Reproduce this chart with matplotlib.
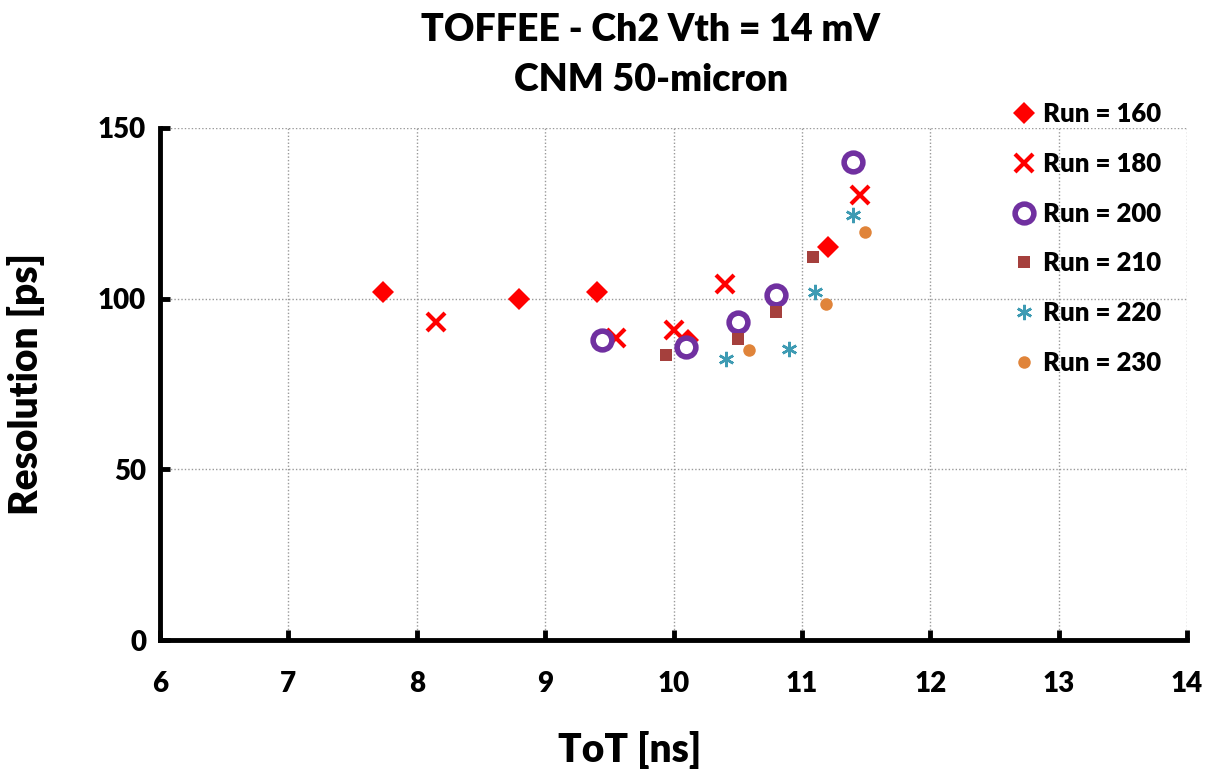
import matplotlib
matplotlib.use("Agg")
import matplotlib.pyplot as plt

plt.rcParams['font.family'] = ['Lato', 'DejaVu Sans']
W = 'heavy'
plt.rcParams['font.weight'] = W

# Data
tot_160 = [7.74, 8.80, 9.40, 10.11, 11.20]
res_160 = [102.0, 100.0, 102.0, 88.0, 115.0]

tot_180 = [8.15, 9.55, 10.00, 10.40, 11.45]
res_180 = [93.3, 88.5, 90.8, 104.3, 130.5]

tot_200 = [9.44, 10.10, 10.50, 10.80, 11.40]
res_200 = [88.0, 85.8, 93.2, 101.2, 140.0]

tot_210 = [9.94, 10.50, 10.80, 11.09]
res_210 = [83.6, 88.3, 96.2, 112.3]

tot_220 = [10.41, 10.90, 11.10, 11.40]
res_220 = [82.4, 85.2, 102.0, 124.5]

tot_230 = [10.59, 11.19, 11.49]
res_230 = [85.0, 98.5, 119.6]

labels = ["Run = 160", "Run = 180", "Run = 200", "Run = 210", "Run = 220", "Run = 230"]
x_ticks = [6, 7, 8, 9, 10, 11, 12, 13, 14]
y_ticks = [0, 50, 100, 150]

fig = plt.figure(figsize=(12.05, 7.7), dpi=100)
ax = fig.add_axes([0.1328, 0.1688, 0.8523, 0.665])

ax.plot(tot_160, res_160, linestyle='none', marker='D', markersize=11,
        color='#FF0000', markeredgewidth=0, label=labels[0])
ax.plot(tot_180, res_180, linestyle='none', marker='x', markersize=13,
        color='#FF0000', markeredgewidth=3, label=labels[1])
ax.plot(tot_200, res_200, linestyle='none', marker='o', markersize=13.5,
        markerfacecolor='white', markeredgecolor='#7030A0', markeredgewidth=4, label=labels[2])
ax.plot(tot_210, res_210, linestyle='none', marker='s', markersize=9,
        color='#A5403D', markeredgewidth=0, label=labels[3])
ax.plot(tot_220, res_220, linestyle='none', marker=(6, 2, 0), markersize=11,
        color='#3E9BB3', markeredgewidth=1.8, label=labels[4])
ax.plot(tot_230, res_230, linestyle='none', marker='o', markersize=9,
        color='#E0843A', markeredgewidth=0, label=labels[5])

ax.set_xlim(6, 14)
ax.set_ylim(0, 150)
ax.set_xticks(x_ticks)
ax.set_yticks(y_ticks)
ax.grid(True, color='#999999', linestyle=(0, (1, 1.5)), linewidth=1.0)
ax.set_axisbelow(True)

for s in ['top', 'right']:
    ax.spines[s].set_visible(False)
for s in ['left', 'bottom']:
    ax.spines[s].set_linewidth(3.5)
    ax.spines[s].set_color('black')

ax.tick_params(axis='both', direction='in', length=7, width=3.5, labelsize=20)
ax.tick_params(axis='x', pad=22)
ax.tick_params(axis='y', pad=10)
for lab in ax.get_xticklabels() + ax.get_yticklabels():
    lab.set_fontweight(W)

ax.set_xlabel("ToT [ns]", fontsize=28, fontweight=W, labelpad=22)
ax.xaxis.set_label_coords(0.457, -0.178)
ax.set_ylabel("Resolution [ps]", fontsize=28, fontweight=W)
ax.yaxis.set_label_coords(-0.112, 0.5)

fig.text(0.54, 0.961, "TOFFEE - Ch2 Vth = 14 mV", ha='center', va='center',
         fontsize=27, fontweight=W)
fig.text(0.54, 0.896, "CNM 50-micron", ha='center', va='center',
         fontsize=27, fontweight=W)

leg = ax.legend(loc='upper left', bbox_to_anchor=(0.82, 1.07), frameon=False,
                fontsize=18.5, handlelength=0.9, handletextpad=0.3,
                labelspacing=1.0, borderaxespad=0)
for t in leg.get_texts():
    t.set_fontweight(W)

fig.savefig("out.png", dpi=100)
